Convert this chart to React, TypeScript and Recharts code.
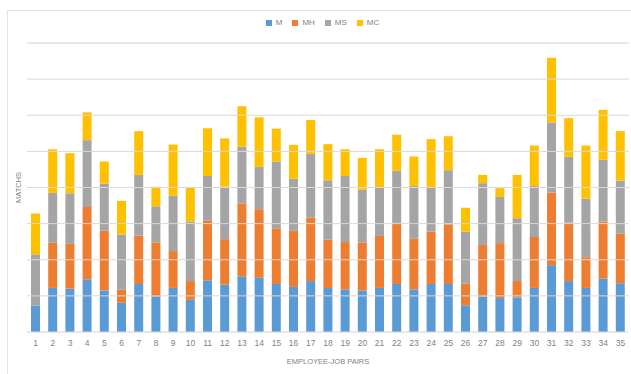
import React from 'react';
import {
  BarChart,
  Bar,
  XAxis,
  YAxis,
  CartesianGrid,
  Legend,
  ReferenceLine,
} from 'recharts';

// values, one entry per employee-job pair
const PAIRS = Array.from({ length: 35 }, (_, i) => String(i + 1));

const M = [
  7.3, 12.2, 12.0, 14.6, 11.5, 8.1, 13.3, 9.8, 12.2, 8.9, 14.3, 13.1, 15.4, 15.0, 13.3, 12.5, 14.1,
  12.2, 11.8, 11.5, 12.2, 13.3, 11.8, 13.3, 13.3, 7.4, 9.8, 9.4, 9.6, 12.2, 18.5, 14.1, 12.2, 14.8, 13.5,
];
const MH = [
  0, 12.5, 12.4, 20.0, 16.6, 3.6, 13.4, 15.0, 10.2, 5.2, 16.6, 12.6, 20.2, 19.0, 15.4, 15.5, 17.6,
  13.4, 13.1, 13.3, 14.4, 16.9, 14.0, 14.5, 16.5, 6.0, 14.3, 15.2, 4.5, 14.1, 20.1, 16.2, 8.5, 15.8, 13.7,
];
const MS = [
  14.2, 13.8, 14.0, 18.5, 13.0, 15.3, 16.8, 10.0, 15.3, 16.5, 12.3, 14.5, 15.7, 11.7, 18.5, 14.4, 17.6,
  16.4, 18.3, 14.6, 13.4, 14.4, 14.6, 12.2, 15.0, 14.4, 17.1, 12.8, 17.4, 14.1, 19.4, 18.2, 16.2, 17.1, 14.7,
];
const MC = [
  11.3, 12.1, 11.1, 7.7, 6.1, 9.3, 12.1, 5.4, 14.2, 9.4, 13.2, 13.4, 11.2, 13.7, 9.1, 9.4, 9.4,
  10.0, 7.4, 8.8, 10.6, 10.0, 8.2, 13.4, 9.4, 6.6, 2.3, 2.4, 12.0, 11.2, 17.9, 10.7, 14.7, 13.8, 13.7,
];

const MAJOR_TICKS = [0, 10, 20, 30, 40, 50, 60, 70, 80];
const MINOR_TICKS = Array.from({ length: 41 }, (_, i) => i * 2);

const SERIES = [
  { key: 'M', color: '#5B9BD5' },
  { key: 'MH', color: '#ED7D31' },
  { key: 'MS', color: '#A5A5A5' },
  { key: 'MC', color: '#FFC000' },
];

const FONT = "'Liberation Sans Narrow', 'Liberation Sans', Arial, sans-serif";

export default function App() {
  const data = PAIRS.map((p, i) => ({ pair: p, M: M[i], MH: MH[i], MS: MS[i], MC: MC[i] }));

  return (
    <div style={{ position: 'absolute', left: 0, top: 0, width: 631, height: 374, background: '#fff' }}>
      <div
        style={{
          position: 'absolute',
          left: 7,
          top: 10,
          width: 640,
          height: 372,
          border: '1px solid #e3e3e3',
        }}
      />
      <div style={{ position: 'absolute', left: 0, top: 0 }}>
        <BarChart
          width={631}
          height={374}
          data={data}
          margin={{ top: 34, right: 2, left: 0, bottom: 10 }}
          style={{ fontFamily: FONT }}
        >
          <CartesianGrid vertical={false} stroke="#f0f0f0" />
          <XAxis
            dataKey="pair"
            height={32}
            axisLine={false}
            tickLine={false}
            interval={0}
            tick={{ fontSize: 8.5, fill: '#7f7f7f' }}
            label={{
              value: 'EMPLOYEE-JOB PAIRS',
              position: 'insideBottom',
              offset: 0,
              style: { fontSize: 7.5, fill: '#7f7f7f' },
            }}
          />
          <YAxis
            width={27}
            domain={[0, 80]}
            ticks={MINOR_TICKS}
            tick={false}
            axisLine={false}
            tickLine={false}
            label={{
              value: 'MATCHS',
              angle: -90,
              position: 'insideLeft',
              offset: 18,
              style: { fontSize: 7.5, fill: '#7f7f7f', textAnchor: 'middle' },
            }}
          />
          {MAJOR_TICKS.map((t) => (
            <ReferenceLine key={t} y={t} stroke="#d9d9d9" />
          ))}
          <Legend
            verticalAlign="top"
            align="center"
            iconType="square"
            iconSize={6}
            itemSorter={null}
            wrapperStyle={{ top: 18, left: 27, width: 601, fontSize: 8 }}
            formatter={(value: string) => <span style={{ color: '#7f7f7f' }}>{value}</span>}
          />
          {SERIES.map((s) => (
            <Bar
              key={s.key}
              dataKey={s.key}
              stackId="a"
              fill={s.color}
              barSize={9}
              isAnimationActive={false}
            />
          ))}
        </BarChart>
      </div>
    </div>
  );
}
